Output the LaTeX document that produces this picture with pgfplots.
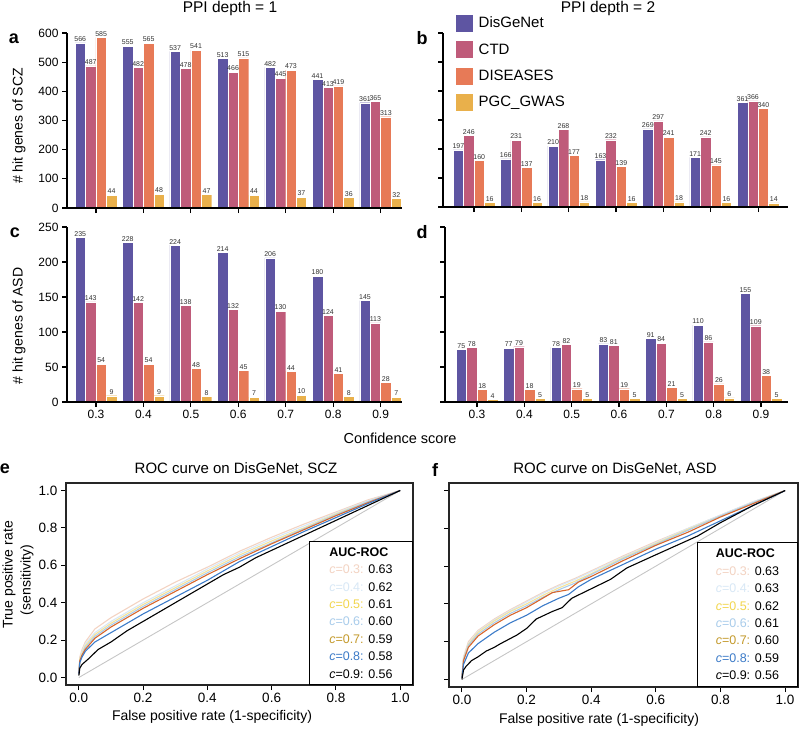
\documentclass[border=0pt]{standalone}
\usepackage{fontspec}
\setmainfont{Liberation Sans}
\usepackage{pgfplots}
\usepackage{pgfplotstable}
\pgfplotsset{compat=1.18}

\definecolor{cDis}{HTML}{5E55A2}
\definecolor{cCTD}{HTML}{BF5B7A}
\definecolor{cDise}{HTML}{E77A57}
\definecolor{cPGC}{HTML}{E9B04B}
\definecolor{r3}{HTML}{F3D3C2}
\definecolor{r4}{HTML}{D8E8F6}
\definecolor{r5}{HTML}{F2D64E}
\definecolor{r6}{HTML}{A9CCEB}
\definecolor{r7}{HTML}{C49A2C}
\definecolor{r7line}{HTML}{D8652A}
\definecolor{r8}{HTML}{3C7BC8}
\definecolor{r5line}{HTML}{F5E39A}

\pgfplotstableread{
x dis ctd dise pgc
0 566 487 585 44
1 555 482 565 48
2 537 478 541 47
3 513 466 515 44
4 482 445 473 37
5 441 413 419 36
6 361 365 313 32
}\tabA
\pgfplotstableread{
x dis ctd dise pgc
0 197 246 160 16
1 166 231 137 16
2 210 268 177 18
3 163 232 139 16
4 269 297 241 18
5 171 242 145 16
6 361 366 340 14
}\tabB
\pgfplotstableread{
x dis ctd dise pgc
0 235 143 54 9
1 228 142 54 9
2 224 138 48 8
3 214 132 45 7
4 206 130 44 10
5 180 124 41 8
6 145 113 28 7
}\tabC
\pgfplotstableread{
x dis ctd dise pgc
0 75 78 18 4
1 77 79 18 5
2 78 82 19 5
3 83 81 19 5
4 91 84 21 5
5 110 86 26 6
6 155 109 38 5
}\tabD

\pgfplotsset{
  every axis/.append style={/pgf/number format/assume math mode=true},
  bars/.style={
    scale only axis, axis lines*=left, ybar=0pt, ymin=0,
    bar width=0.22, axis on top,
    xtick={0,...,6},
    tick align=outside, major tick length=5pt,
    axis line style={line width=1.2pt, black},
    every tick/.style={line width=1.2pt, black},
    tick label style={font=\fontsize{12}{14}\selectfont},
    clip=false,
    nodes near coords,
    every node near coord/.append style={font=\fontsize{7}{8}\selectfont, inner sep=1pt, text=black!80},
  },
  roc/.style={
    scale only axis, height=202pt,
    xmin=-0.04, xmax=1.04, ymin=-0.04, ymax=1.04,
    xtick={0,0.2,0.4,0.6,0.8,1}, ytick={0,0.2,0.4,0.6,0.8,1},
    tick pos=left, tick align=outside, major tick length=5pt,
    axis line style={line width=1.1pt, black!85},
    every tick/.style={line width=1pt, black},
    tick label style={font=\fontsize{13.5}{15}\selectfont},
    xticklabel style={/pgf/number format/.cd, fixed, fixed zerofill, precision=1},
    yticklabel style={/pgf/number format/.cd, fixed, fixed zerofill, precision=1},
    every axis plot/.append style={no marks, line width=1.1pt},
  },
}

\newcommand{\aucbox}[7]{%
  \textbf{AUC-ROC}\\
  {\color{r3}\textit{c}=0.3:} #1\\
  {\color{r4}\textit{c}=0.4:} #2\\
  {\color{r5}\textit{c}=0.5:} #3\\
  {\color{r6}\textit{c}=0.6:} #4\\
  {\color{r7}\textit{c}=0.7:} #5\\
  {\color{r8}\textit{c}=0.8:} #6\\
  \textit{c}=0.9: #7}

\begin{document}
\begin{tikzpicture}
\path[use as bounding box] (0pt,0pt) rectangle (800pt,-732pt);

% ---------- panel a
\begin{axis}[bars, at={(67pt,-208pt)}, anchor=south west,
  width=335pt, height=175pt, xmin=-0.61, xmax=6.45,
  ymax=600, ytick={0,100,...,600}, xticklabels={}]
\addplot[fill=cDis, draw=white, bar shift=-0.33] table[x=x,y=dis]{\tabA};
\addplot[fill=cCTD, draw=white, bar shift=-0.11] table[x=x,y=ctd]{\tabA};
\addplot[fill=cDise, draw=white, bar shift=0.11] table[x=x,y=dise]{\tabA};
\addplot[fill=cPGC, draw=white, bar shift=0.33] table[x=x,y=pgc]{\tabA};
\end{axis}

% ---------- panel b
\begin{axis}[bars, at={(443pt,-207pt)}, anchor=south west,
  width=345pt, height=174pt, xmin=-0.655, xmax=6.63,
  ymax=600, ytick={0,100,...,600}, xticklabels={}, yticklabels={},
  legend style={at={(0.035,1.11)}, anchor=north west, draw=none, fill=none,
    font=\fontsize{15}{17}\selectfont, row sep=8pt, inner sep=0pt,
    /tikz/every odd column/.append style={column sep=3pt}},
  legend cell align=left,
  legend image code/.code={\fill[#1] (0pt,-9pt) rectangle (18pt,9pt);}]
\addplot[fill=cDis, draw=white, bar shift=-0.33] table[x=x,y=dis]{\tabB};
\addplot[fill=cCTD, draw=white, bar shift=-0.11] table[x=x,y=ctd]{\tabB};
\addplot[fill=cDise, draw=white, bar shift=0.11] table[x=x,y=dise]{\tabB};
\addplot[fill=cPGC, draw=white, bar shift=0.33] table[x=x,y=pgc]{\tabB};
\legend{DisGeNet,CTD,DISEASES,PGC\_GWAS}
\end{axis}

% ---------- panel c
\begin{axis}[bars, at={(67pt,-402pt)}, anchor=south west,
  width=335pt, height=175pt, xmin=-0.61, xmax=6.45,
  ymax=250, ytick={0,50,...,250},
  xticklabels={0.3,0.4,0.5,0.6,0.7,0.8,0.9}]
\addplot[fill=cDis, draw=white, bar shift=-0.33] table[x=x,y=dis]{\tabC};
\addplot[fill=cCTD, draw=white, bar shift=-0.11] table[x=x,y=ctd]{\tabC};
\addplot[fill=cDise, draw=white, bar shift=0.11] table[x=x,y=dise]{\tabC};
\addplot[fill=cPGC, draw=white, bar shift=0.33] table[x=x,y=pgc]{\tabC};
\end{axis}

% ---------- panel d
\begin{axis}[bars, at={(445pt,-402pt)}, anchor=south west,
  width=343pt, height=175pt, xmin=-0.676, xmax=6.57,
  ymax=250, ytick={0,50,...,250}, yticklabels={},
  xticklabels={0.3,0.4,0.5,0.6,0.7,0.8,0.9}]
\addplot[fill=cDis, draw=white, bar shift=-0.33] table[x=x,y=dis]{\tabD};
\addplot[fill=cCTD, draw=white, bar shift=-0.11] table[x=x,y=ctd]{\tabD};
\addplot[fill=cDise, draw=white, bar shift=0.11] table[x=x,y=dise]{\tabD};
\addplot[fill=cPGC, draw=white, bar shift=0.33] table[x=x,y=pgc]{\tabD};
\end{axis}

% ---------- panel e
\begin{axis}[roc, at={(66pt,-685pt)}, anchor=south west, width=347pt]
\addplot[gray!45, line width=0.9pt] coordinates {(0,0) (1,1)};
\addplot[r3] coordinates {(0,0.02) (0.003,0.11) (0.01,0.15) (0.02,0.19) (0.05,0.26) (0.1,0.32) (0.15,0.37) (0.2,0.42) (0.3,0.51) (0.4,0.59) (0.5,0.675) (0.6,0.75) (0.7,0.82) (0.8,0.885) (0.9,0.95) (1,1)};
\addplot[r4] coordinates {(0,0.02) (0.003,0.10) (0.01,0.14) (0.02,0.18) (0.05,0.24) (0.1,0.30) (0.15,0.35) (0.2,0.40) (0.3,0.49) (0.4,0.58) (0.5,0.665) (0.6,0.74) (0.7,0.81) (0.8,0.88) (0.9,0.945) (1,1)};
\addplot[r5line] coordinates {(0,0.02) (0.003,0.10) (0.01,0.13) (0.02,0.17) (0.05,0.23) (0.1,0.29) (0.15,0.34) (0.2,0.39) (0.3,0.48) (0.4,0.57) (0.5,0.655) (0.6,0.73) (0.7,0.80) (0.8,0.875) (0.9,0.94) (1,1)};
\addplot[r6] coordinates {(0,0.02) (0.003,0.09) (0.01,0.12) (0.02,0.16) (0.05,0.22) (0.1,0.28) (0.15,0.33) (0.2,0.38) (0.3,0.47) (0.4,0.56) (0.5,0.645) (0.6,0.72) (0.7,0.795) (0.8,0.87) (0.9,0.94) (1,1)};
\addplot[r7line] coordinates {(0,0.02) (0.003,0.09) (0.01,0.12) (0.02,0.15) (0.05,0.21) (0.1,0.27) (0.15,0.32) (0.2,0.37) (0.3,0.46) (0.4,0.55) (0.5,0.635) (0.6,0.715) (0.7,0.79) (0.8,0.865) (0.9,0.935) (1,1)};
\addplot[r8] coordinates {(0,0.02) (0.003,0.08) (0.01,0.11) (0.02,0.14) (0.05,0.19) (0.1,0.24) (0.15,0.29) (0.2,0.34) (0.3,0.43) (0.4,0.52) (0.5,0.62) (0.6,0.70) (0.7,0.78) (0.8,0.855) (0.9,0.93) (1,1)};
\addplot[black] coordinates {(0,0.01) (0.003,0.05) (0.01,0.07) (0.03,0.10) (0.06,0.15) (0.1,0.19) (0.15,0.25) (0.2,0.30) (0.25,0.35) (0.3,0.40) (0.35,0.45) (0.4,0.50) (0.45,0.55) (0.5,0.59) (0.55,0.64) (0.6,0.68) (0.7,0.76) (0.8,0.84) (0.9,0.92) (1,1)};
\node[draw=black, line width=1.1pt, fill=white, anchor=south east, minimum width=103pt, minimum height=143pt, inner sep=0pt, align=left, font=\fontsize{12.5}{17.4}\selectfont] at (rel axis cs:1,0) {\aucbox{0.63}{0.62}{0.61}{0.60}{0.59}{0.58}{0.56}};
\end{axis}

% ---------- panel f
\begin{axis}[roc, at={(449pt,-687pt)}, anchor=south west, width=349pt, height=204pt, yticklabels={}]
\addplot[gray!45, line width=0.9pt] coordinates {(0,0) (1,1)};
\addplot[r3] coordinates {(0,0.01) (0.005,0.12) (0.02,0.20) (0.05,0.26) (0.1,0.32) (0.15,0.37) (0.2,0.415) (0.25,0.46) (0.3,0.50) (0.35,0.535) (0.4,0.575) (0.5,0.655) (0.6,0.73) (0.7,0.80) (0.8,0.87) (0.9,0.94) (1,1)};
\addplot[r4] coordinates {(0,0.01) (0.005,0.115) (0.02,0.19) (0.05,0.255) (0.1,0.315) (0.15,0.365) (0.2,0.41) (0.25,0.455) (0.3,0.495) (0.35,0.53) (0.4,0.57) (0.5,0.65) (0.6,0.725) (0.7,0.80) (0.8,0.87) (0.9,0.94) (1,1)};
\addplot[r5line] coordinates {(0,0.01) (0.005,0.11) (0.02,0.185) (0.05,0.25) (0.1,0.31) (0.15,0.36) (0.2,0.40) (0.25,0.445) (0.3,0.485) (0.35,0.52) (0.4,0.56) (0.5,0.645) (0.6,0.72) (0.7,0.795) (0.8,0.865) (0.9,0.935) (1,1)};
\addplot[r6] coordinates {(0,0.01) (0.005,0.105) (0.02,0.18) (0.05,0.24) (0.1,0.30) (0.15,0.35) (0.2,0.39) (0.25,0.435) (0.3,0.475) (0.35,0.51) (0.4,0.555) (0.5,0.64) (0.6,0.715) (0.7,0.79) (0.8,0.865) (0.9,0.935) (1,1)};
\addplot[r7line] coordinates {(0,0.01) (0.005,0.10) (0.02,0.17) (0.05,0.23) (0.1,0.29) (0.15,0.34) (0.2,0.38) (0.25,0.43) (0.28,0.46) (0.33,0.475) (0.36,0.515) (0.4,0.545) (0.5,0.63) (0.6,0.71) (0.7,0.78) (0.8,0.86) (0.9,0.93) (1,1)};
\addplot[r8] coordinates {(0,0.01) (0.005,0.08) (0.02,0.14) (0.05,0.19) (0.1,0.25) (0.15,0.30) (0.2,0.34) (0.25,0.39) (0.3,0.43) (0.33,0.45) (0.36,0.49) (0.4,0.53) (0.5,0.61) (0.6,0.69) (0.7,0.76) (0.8,0.84) (0.9,0.92) (1,1)};
\addplot[black] coordinates {(0,0) (0.005,0.05) (0.013,0.07) (0.03,0.10) (0.05,0.12) (0.075,0.15) (0.1,0.17) (0.12,0.19) (0.17,0.235) (0.2,0.27) (0.23,0.32) (0.28,0.36) (0.31,0.38) (0.34,0.43) (0.4,0.48) (0.46,0.53) (0.51,0.59) (0.6,0.66) (0.73,0.76) (0.8,0.83) (0.9,0.92) (1,1)};
\node[draw=black, line width=1.1pt, fill=white, anchor=south east, minimum width=100pt, minimum height=144pt, inner sep=0pt, align=left, font=\fontsize{12.5}{17.4}\selectfont] at (rel axis cs:1,0) {\aucbox{0.63}{0.63}{0.62}{0.61}{0.60}{0.59}{0.56}};
\end{axis}

% ---------- texts
\node[font=\fontsize{15.5}{17}\selectfont] at (230pt,-8pt) {PPI depth = 1};
\node[font=\fontsize{15.5}{17}\selectfont] at (608pt,-8pt) {PPI depth = 2};
\node[font=\fontsize{14}{16}\selectfont, rotate=90] at (19pt,-126pt) {\# hit genes of SCZ};
\node[font=\fontsize{14}{16}\selectfont, rotate=90] at (19pt,-326pt) {\# hit genes of ASD};
\node[font=\fontsize{14.5}{16}\selectfont] at (400pt,-438pt) {Confidence score};
\node[font=\fontsize{18}{20}\selectfont\bfseries, inner sep=0pt] at (14pt,-39pt) {a};
\node[font=\fontsize{18}{20}\selectfont\bfseries, inner sep=0pt] at (422pt,-38pt) {b};
\node[font=\fontsize{18}{20}\selectfont\bfseries, inner sep=0pt] at (15pt,-233pt) {c};
\node[font=\fontsize{18}{20}\selectfont\bfseries, inner sep=0pt] at (422pt,-232pt) {d};
\node[font=\fontsize{18}{20}\selectfont\bfseries, inner sep=0pt] at (5pt,-469pt) {e};
\node[font=\fontsize{18}{20}\selectfont\bfseries, inner sep=0pt] at (435pt,-470pt) {f};
\node[font=\fontsize{15}{17}\selectfont] at (236pt,-469pt) {ROC curve on DisGeNet, SCZ};
\node[font=\fontsize{15}{17}\selectfont] at (615pt,-469pt) {ROC curve on DisGeNet, ASD};
\node[font=\fontsize{14}{16}\selectfont] at (212pt,-717pt) {False positive rate (1-specificity)};
\node[font=\fontsize{14}{16}\selectfont] at (599pt,-720pt) {False positive rate (1-specificity)};
\node[font=\fontsize{14}{16}\selectfont, rotate=90] at (9pt,-575pt) {True positive rate};
\node[font=\fontsize{14}{16}\selectfont, rotate=90] at (27pt,-580pt) {(sensitivity)};
\end{tikzpicture}
\end{document}
